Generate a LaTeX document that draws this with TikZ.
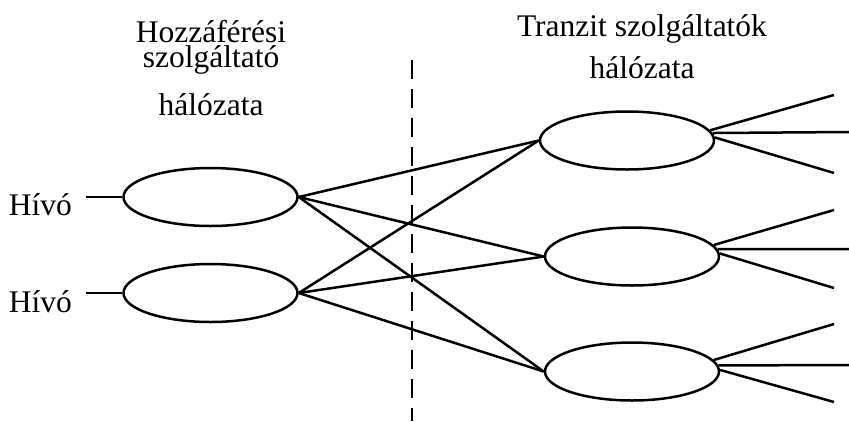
\documentclass[tikz,border=0pt]{standalone}
\usepackage{fontspec}
\setmainfont{Liberation Serif}
\usetikzlibrary{shapes.geometric}
\begin{document}
\begin{tikzpicture}[x=1pt, y=-1pt,
  font=\fontsize{31.5}{25}\selectfont,
  net/.style={draw, ellipse, line width=2.5pt, minimum width=174pt, minimum height=58pt, inner sep=0pt},
  lbl/.style={inner sep=0pt, align=center},
  conn/.style={line width=2.5pt},
  border/.style={line width=2.5pt, dash pattern=on 19pt off 10pt}
]
\useasboundingbox (0,0) rectangle (849,421);
\node[lbl, anchor=base] (access) at (211,115) {Hozzáférési\\szolgáltató\\[18pt]hálózata};
\node[lbl, anchor=base, font=\fontsize{31.5}{41.6}\selectfont] (transit) at (642,78.3) {Tranzit szolgáltatók\\hálózata};
\node[net] (acc1) at (210.5,197) {};
\node[net] (acc2) at (210.5,293) {};
\node[net] (trA) at (627,140.5) {};
\node[net] (trB) at (632,256.5) {};
\node[net] (trC) at (632,371.5) {};
\node[lbl, anchor=base east] (caller1) at (72,215) {Hívó};
\node[lbl, anchor=base east] (caller2) at (72,312) {Hívó};
\coordinate (in1) at (86,197);
\coordinate (in2) at (86,293);
\coordinate (cutT) at (412,60);
\coordinate (cutB) at (412,421);
\coordinate (a1) at (834,95);
\coordinate (a2) at (849,132);
\coordinate (a3) at (834,173);
\coordinate (b1) at (834,210);
\coordinate (b2) at (849,249);
\coordinate (b3) at (834,288);
\coordinate (c1) at (834,324);
\coordinate (c2) at (849,365);
\coordinate (c3) at (834,402);
\draw[conn] (in1) -- (acc1.west);
\draw[conn] (in2) -- (acc2.west);
\draw[border] (cutT) -- (cutB);
\draw[conn] (acc1.east) -- (trA.west);
\draw[conn] (acc1.east) -- (trB.west);
\draw[conn] (acc1.east) -- (trC.west);
\draw[conn] (acc2.east) -- (trA.west);
\draw[conn] (acc2.east) -- (trB.west);
\draw[conn] (acc2.east) -- (trC.west);
\draw[conn] (trA.7) -- (a1);
\draw[conn] (trA.5) -- (a2);
\draw[conn] (trA.2) -- (a3);
\draw[conn] (trB.8) -- (b1);
\draw[conn] (trB.5) -- (b2);
\draw[conn] (trB.2) -- (b3);
\draw[conn] (trC.8) -- (c1);
\draw[conn] (trC.4) -- (c2);
\draw[conn] (trC.1) -- (c3);
\end{tikzpicture}
\end{document}
